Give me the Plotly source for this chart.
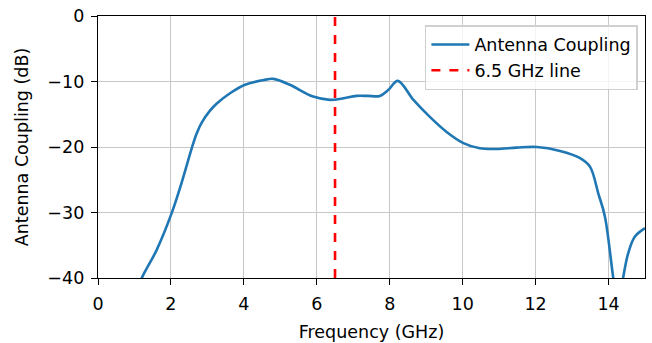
import plotly.graph_objects as go

freq = [0.9, 1.2, 1.61, 2.02, 2.29, 2.57, 2.7, 2.84, 3.05, 3.25, 3.62, 4.03, 4.53, 4.81, 5.26, 5.9, 6.36, 6.7,
        7.09, 7.4, 7.73, 7.96, 8.22, 8.65, 9.1, 9.56, 10.02, 10.47, 10.93, 11.48,
        12.03, 12.67, 13.22, 13.49, 13.72, 13.9, 14.13, 14.27, 14.4, 14.54, 14.72, 15.0]
coupling = [-44, -40, -35.7, -30.1, -25.5, -20.2, -18.0, -16.3, -14.6, -13.4, -11.8, -10.5, -9.8, -9.6, -10.5, -12.3,
            -12.8, -12.6, -12.2, -12.2, -12.2, -11.3, -9.9, -12.8, -15.4, -17.7, -19.4,
            -20.2, -20.3, -20.1, -20.0, -20.6, -21.7, -23.0, -27.1, -30.6, -40.0, -45,
            -40.0, -36.2, -33.7, -32.4]
marker_freq = 6.5
y_range = [-40, 0]
x_ticks = [0, 2, 4, 6, 8, 10, 12, 14]
y_ticks = [-40, -30, -20, -10, 0]
y_ticktext = ["\u221240", "\u221230", "\u221220", "\u221210", "0"]

FS = 17.5
FONT = dict(family="DejaVu Sans", size=FS, color="black")

fig = go.Figure()
fig.add_trace(go.Scatter(x=freq, y=coupling, mode="lines", name="Antenna Coupling",
                         line=dict(color="#1f77b4", width=2.6, shape="spline", smoothing=1.0)))
fig.add_trace(go.Scatter(x=[marker_freq, marker_freq], y=y_range, mode="lines",
                         name="6.5 GHz line",
                         line=dict(color="red", width=2.6, dash="dash")))

axis_common = dict(showline=True, linecolor="black", linewidth=1.4, mirror=True,
                   ticks="outside", ticklen=6, tickcolor="black", tickwidth=1.4,
                   showgrid=True, gridcolor="#c8c8c8", gridwidth=1.3, zeroline=False,
                   tickfont=FONT)

fig.update_xaxes(range=[0, 15], tickvals=x_ticks, ticklabelstandoff=4,
                 title=dict(text="Frequency (GHz)", font=FONT, standoff=12),
                 **axis_common)
fig.update_yaxes(range=y_range, tickvals=y_ticks, ticktext=y_ticktext, ticklabelstandoff=3,
                 title=dict(text="Antenna Coupling (dB)", font=FONT, standoff=14),
                 **axis_common)

fig.update_layout(
    width=652, height=343,
    margin=dict(l=98, r=7, t=16, b=65, autoexpand=False),
    plot_bgcolor="white", paper_bgcolor="white",
    font=FONT,
    legend=dict(x=0.987, y=0.965, xanchor="right", yanchor="top",
                bgcolor="rgba(255,255,255,0.8)", bordercolor="#d0d0d0", borderwidth=1.5,
                font=FONT, tracegroupgap=0, itemwidth=38),
)

fig.write_html("out.html", config={"displayModeBar": False},
               post_script="document.body.style.margin='0';")
